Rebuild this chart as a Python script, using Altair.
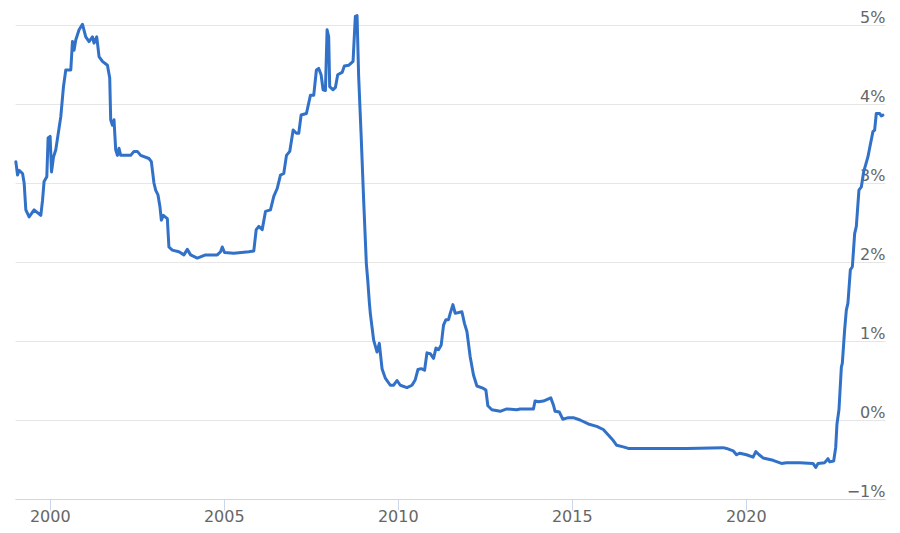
import altair as alt
import pandas as pd

years = [
    1999.024, 1999.073, 1999.119, 1999.217, 1999.263, 1999.311, 1999.406, 1999.549, 1999.742, 1999.791,
    1999.836, 1999.914, 1999.951, 2000.009, 2000.049, 2000.106, 2000.172, 2000.316, 2000.393, 2000.459,
    2000.603, 2000.651, 2000.697, 2000.746, 2000.841, 2000.938, 2001.033, 2001.128, 2001.225, 2001.271,
    2001.349, 2001.415, 2001.512, 2001.656, 2001.722, 2001.750, 2001.799, 2001.845, 2001.894, 2001.943,
    2001.989, 2002.037, 2002.275, 2002.324, 2002.419, 2002.516, 2002.611, 2002.849, 2002.918, 2002.993,
    2003.042, 2003.108, 2003.165, 2003.205, 2003.263, 2003.377, 2003.423, 2003.521, 2003.710, 2003.854,
    2003.951, 2004.046, 2004.238, 2004.476, 2004.812, 2004.907, 2004.956, 2005.022, 2005.288, 2005.719,
    2005.862, 2005.931, 2006.006, 2006.103, 2006.198, 2006.341, 2006.436, 2006.534, 2006.628, 2006.723,
    2006.801, 2006.895, 2006.993, 2007.087, 2007.154, 2007.222, 2007.374, 2007.489, 2007.584, 2007.661,
    2007.727, 2007.796, 2007.853, 2007.920, 2007.968, 2008.014, 2008.043, 2008.141, 2008.207, 2008.273,
    2008.399, 2008.465, 2008.588, 2008.714, 2008.780, 2008.829, 2008.875, 2008.944, 2009.019, 2009.096,
    2009.140, 2009.180, 2009.210, 2009.306, 2009.403, 2009.469, 2009.547, 2009.641, 2009.785, 2009.880,
    2009.977, 2010.072, 2010.264, 2010.408, 2010.502, 2010.580, 2010.674, 2010.769, 2010.838, 2010.932,
    2011.027, 2011.096, 2011.171, 2011.248, 2011.314, 2011.383, 2011.458, 2011.506, 2011.584, 2011.650,
    2011.842, 2011.917, 2011.986, 2012.080, 2012.175, 2012.273, 2012.462, 2012.531, 2012.588, 2012.703,
    2012.941, 2013.133, 2013.420, 2013.515, 2013.897, 2013.945, 2014.040, 2014.184, 2014.396, 2014.471,
    2014.519, 2014.643, 2014.740, 2014.901, 2015.044, 2015.237, 2015.475, 2015.716, 2015.905, 2016.049,
    2016.192, 2016.290, 2016.479, 2016.623, 2017.340, 2018.298, 2019.348, 2019.446, 2019.636, 2019.733,
    2019.828, 2020.020, 2020.209, 2020.287, 2020.382, 2020.496, 2020.783, 2021.024, 2021.168, 2021.549,
    2021.931, 2022.009, 2022.075, 2022.267, 2022.362, 2022.410, 2022.525, 2022.583, 2022.620, 2022.677,
    2022.746, 2022.774, 2022.840, 2022.889, 2022.935, 2023.004, 2023.062, 2023.128, 2023.176, 2023.251,
    2023.320, 2023.386, 2023.509, 2023.558, 2023.653, 2023.702, 2023.750, 2023.845, 2023.893, 2023.939,
]

rates = [
    3.27, 3.10, 3.16, 3.12, 3.00, 2.66, 2.57, 2.66, 2.59, 2.78,
    3.02, 3.08, 3.57, 3.59, 3.14, 3.33, 3.42, 3.84, 4.22, 4.43,
    4.43, 4.79, 4.68, 4.81, 4.94, 5.01, 4.85, 4.79, 4.85, 4.77,
    4.85, 4.60, 4.54, 4.49, 4.33, 3.80, 3.73, 3.80, 3.42, 3.35,
    3.44, 3.35, 3.35, 3.35, 3.40, 3.40, 3.35, 3.31, 3.27, 3.00,
    2.91, 2.85, 2.70, 2.53, 2.59, 2.55, 2.19, 2.15, 2.13, 2.09,
    2.16, 2.09, 2.05, 2.09, 2.09, 2.13, 2.19, 2.12, 2.11, 2.13,
    2.14, 2.41, 2.45, 2.41, 2.64, 2.66, 2.83, 2.93, 3.10, 3.12,
    3.35, 3.40, 3.67, 3.63, 3.63, 3.86, 3.88, 4.11, 4.11, 4.43,
    4.45, 4.37, 4.18, 4.17, 4.94, 4.85, 4.22, 4.18, 4.21, 4.37,
    4.40, 4.48, 4.49, 4.54, 5.11, 5.12, 4.35, 3.63, 2.78, 1.98,
    1.75, 1.50, 1.35, 1.01, 0.86, 0.97, 0.65, 0.53, 0.44, 0.44,
    0.50, 0.44, 0.41, 0.44, 0.51, 0.64, 0.65, 0.63, 0.85, 0.84,
    0.78, 0.91, 0.89, 0.95, 1.20, 1.27, 1.27, 1.35, 1.46, 1.35,
    1.37, 1.22, 1.12, 0.80, 0.57, 0.43, 0.40, 0.38, 0.18, 0.13,
    0.11, 0.14, 0.13, 0.14, 0.14, 0.24, 0.23, 0.24, 0.28, 0.19,
    0.11, 0.10, 0.01, 0.03, 0.03, 0.00, -0.05, -0.08, -0.12, -0.19,
    -0.26, -0.32, -0.34, -0.36, -0.36, -0.36, -0.35, -0.36, -0.39, -0.44,
    -0.42, -0.44, -0.47, -0.40, -0.44, -0.48, -0.51, -0.55, -0.54, -0.54,
    -0.55, -0.60, -0.55, -0.54, -0.49, -0.53, -0.52, -0.35, -0.05, 0.13,
    0.67, 0.72, 1.14, 1.39, 1.48, 1.90, 1.94, 2.36, 2.45, 2.91,
    2.95, 3.14, 3.33, 3.44, 3.65, 3.67, 3.88, 3.88, 3.85, 3.86,
]

x_ticks = [2000, 2005, 2010, 2015, 2020]
y_ticks = [-1, 0, 1, 2, 3, 4, 5]

df = pd.DataFrame({"year": years, "rate": rates})

FONT = "DejaVu Sans"

chart = (
    alt.Chart(df)
    .mark_line(color="#3271c8", strokeWidth=3, strokeJoin="round", strokeCap="round")
    .encode(
        x=alt.X(
            "year:Q",
            scale=alt.Scale(domain=[1999.0, 2024.0], nice=False, zero=False),
            axis=alt.Axis(
                values=x_ticks,
                format="d",
                title=None,
                grid=False,
                domainColor="#ccd6eb",
                domainWidth=1,
                tickColor="#ccd6eb",
                tickSize=11,
                tickWidth=1,
                labelBaseline="alphabetic",
                labelPadding=11,
                labelColor="#666666",
                labelFont=FONT,
                labelFontSize=16,
            ),
        ),
        y=alt.Y(
            "rate:Q",
            scale=alt.Scale(domain=[-1, 5], nice=False, zero=False),
            axis=alt.Axis(
                orient="right",
                values=y_ticks,
                labelExpr="format(datum.value, 'd') + '%'",
                title=None,
                domain=False,
                ticks=False,
                grid=True,
                gridColor="#e6e6e6",
                gridWidth=1,
                labelAlign="right",
                labelBaseline="alphabetic",
                labelPadding=0,
                labelOffset=-3,
                labelColor="#666666",
                labelFont=FONT,
                labelFontSize=16,
            ),
        ),
    )
    .properties(
        width=870,
        height=474,
        autosize=alt.AutoSizeParams(type="none"),
        padding={"left": 7, "top": 17, "right": 7, "bottom": 26},
    )
    .configure_view(stroke=None)
)

chart.save("out.html", embed_options={"renderer": "svg", "actions": False})
